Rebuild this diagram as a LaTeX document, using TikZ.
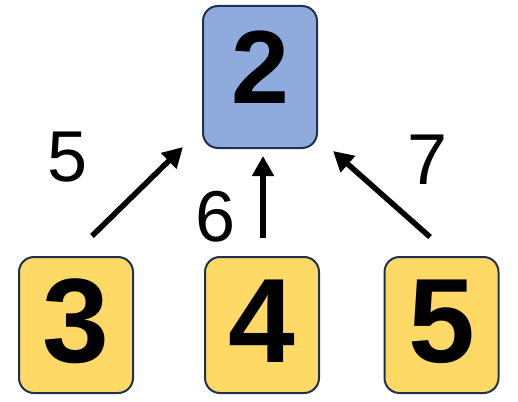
\documentclass[tikz,border=0pt]{standalone}
\usepackage{fontspec}
\setmainfont{Liberation Sans}
\usetikzlibrary{arrows.meta}
\definecolor{bluefill}{HTML}{8FAADC}
\definecolor{yellowfill}{HTML}{FFD966}
\definecolor{edgecol}{HTML}{1F3050}
\tikzset{
  box/.style={draw=edgecol, line width=2pt, rounded corners=15pt, minimum width=114pt, inner sep=0pt},
  topbox/.style={box, fill=bluefill, minimum height=142pt, text depth=20pt, font=\fontsize{104}{104}\selectfont\bfseries},
  botbox/.style={box, fill=yellowfill, minimum height=136pt, text depth=8pt, font=\fontsize{120}{120}\selectfont\bfseries},
  arr/.style={line width=5.5pt, -{Triangle[length=20pt,width=21pt]}},
  lbl/.style={font=\fontsize{72}{72}\selectfont, inner sep=0pt}
}
\begin{document}
\begin{tikzpicture}[x=1pt,y=-1pt]
\useasboundingbox (0,0) rectangle (518,401);
\node[topbox] (n2) at (260,77) {2};
\node[botbox] (n3) at (76,325) {3};
\node[botbox] (n4) at (262,325) {4};
\node[botbox] (n5) at (441.5,325) {5};
\coordinate (s3) at (92,236);
\coordinate (e3) at (183,147);
\coordinate (s4) at (263,238);
\coordinate (e4) at (263,156);
\coordinate (s5) at (430,237);
\coordinate (e5) at (333,151);
\draw[arr] (s3) -- (e3);
\draw[arr] (s4) -- (e4);
\draw[arr] (s5) -- (e5);
\node[lbl] (l5) at (68,157) {5};
\node[lbl] (l6) at (216,217) {6};
\node[lbl] (l7) at (428,160) {7};
\end{tikzpicture}
\end{document}
